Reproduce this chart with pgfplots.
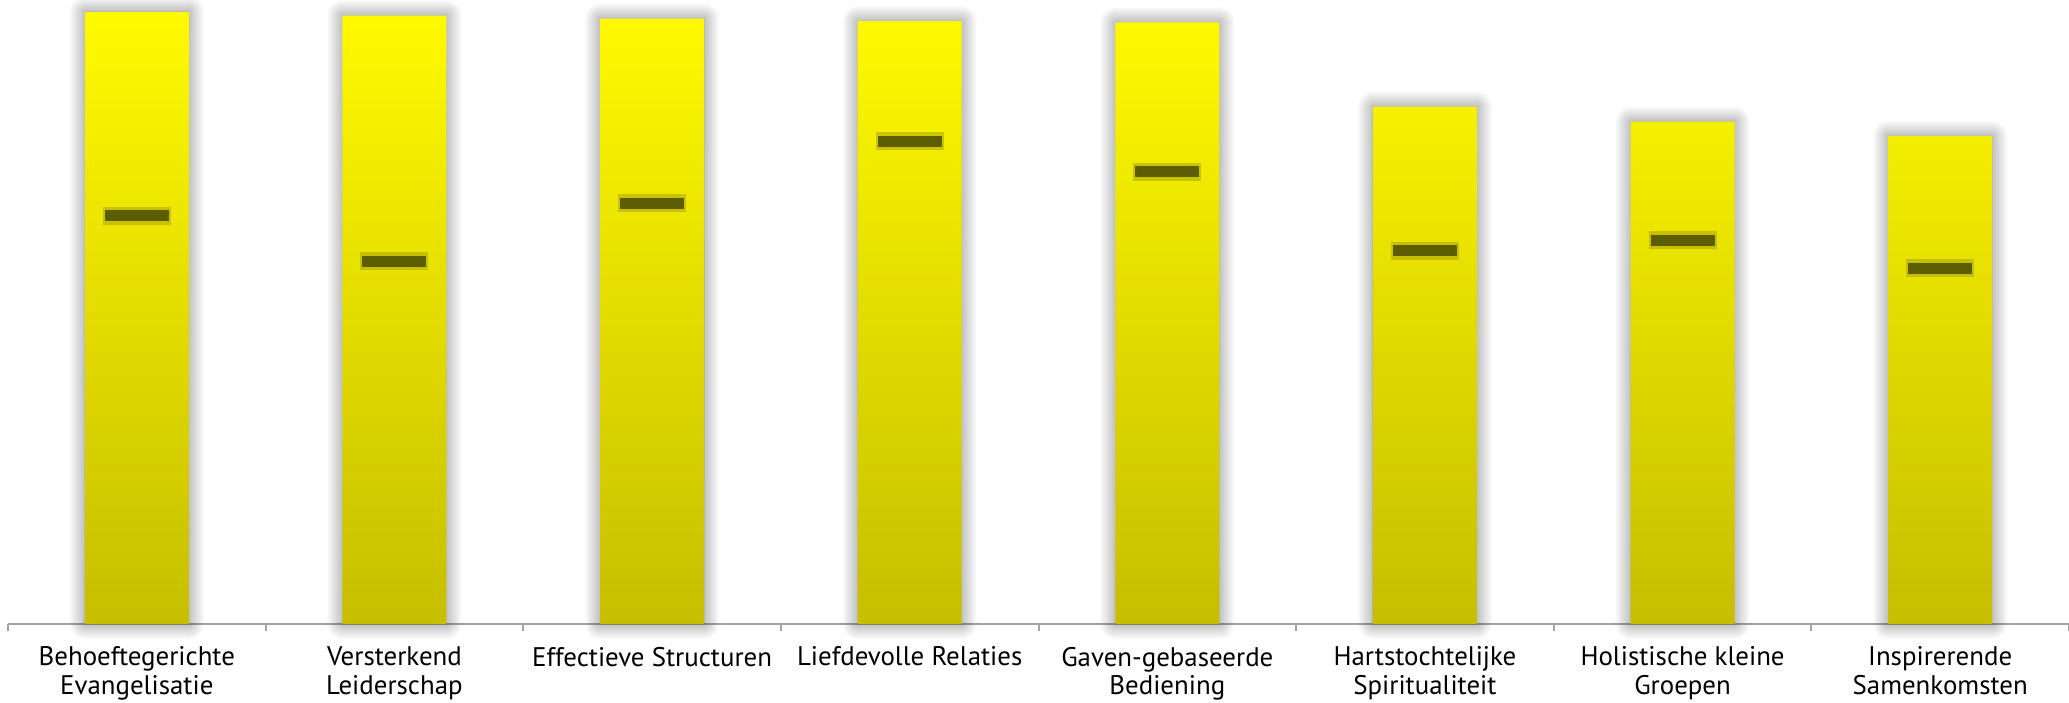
\documentclass[border=0pt]{standalone}
\usepackage{pgfplots}
\pgfplotsset{compat=1.18}
\usepackage{fontspec}
\setmainfont{PT Sans}
\usetikzlibrary{shadows.blur}

\definecolor{bartop}{RGB}{255,250,0}
\definecolor{barbot}{RGB}{198,190,0}
\definecolor{markcore}{RGB}{92,92,0}
\definecolor{markhalo}{RGB}{170,165,0}
\definecolor{axisgray}{RGB}{165,165,165}

\begin{document}
\begin{tikzpicture}
\begin{axis}[
    scale only axis,
    width=206.1mm, height=62.4mm,
    xmin=-0.5, xmax=7.5, ymin=0, ymax=100,
    axis x line*=bottom,
    axis y line=none,
    axis line style={axisgray, line width=0.2mm},
    xtick={0,...,7},
    xticklabels={{Behoeftegerichte\\Evangelisatie},{Versterkend\\Leiderschap},{Effectieve Structuren},{Liefdevolle Relaties},{Gaven-gebaseerde\\Bediening},{Hartstochtelijke\\Spiritualiteit},{Holistische kleine\\Groepen},{Inspirerende\\Samenkomsten}},
    xticklabel style={align=center, anchor=north, font=\fontsize{7.65}{8.2}\selectfont, yshift=-1.05mm, text=black},
    major tick length=0pt,
    extra x ticks={-0.5,0.5,...,7.5},
    extra x tick labels={},
    extra x tick style={major tick length=0.7mm, tick align=outside, tick style={axisgray, line width=0.2mm}},
    ytick=\empty,
    clip=false,
]
% bars
\addplot[ybar, bar width=10.4mm, bar shift=0pt, draw=none,
    top color=bartop, bottom color=barbot,
    blur shadow={shadow xshift=0mm, shadow yshift=0mm, shadow blur radius=1.6mm, shadow blur steps=25, shadow opacity=50}]
coordinates {(0,98.1) (1,97.5) (2,97.0) (3,96.6) (4,96.4) (5,82.9) (6,80.5) (7,78.2)};
% markers: halo then core
\addplot[only marks, mark=-, mark size=3.4mm, mark options={draw=markhalo, line width=1.8mm, opacity=0.55}]
coordinates {(0,65.4) (1,58.1) (2,67.4) (3,77.4) (4,72.5) (5,59.8) (6,61.5) (7,57.0)};
\addplot[only marks, mark=-, mark size=3.2mm, mark options={draw=markcore, line width=1.1mm}]
coordinates {(0,65.4) (1,58.1) (2,67.4) (3,77.4) (4,72.5) (5,59.8) (6,61.5) (7,57.0)};
\end{axis}
\pgfresetboundingbox
\path ([xshift=-0.8mm,yshift=-7.8mm]current axis.south west) rectangle (current axis.north east);
\end{tikzpicture}
\end{document}
